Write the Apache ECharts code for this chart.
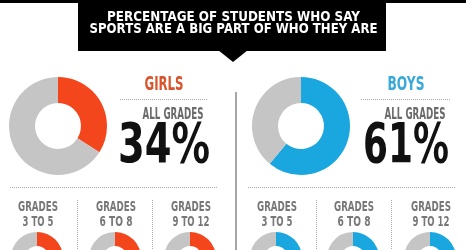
<!DOCTYPE html>
<html>
<head>
<meta charset="utf-8">
<script src="https://cdn.jsdelivr.net/npm/echarts@6/dist/echarts.min.js"></script>
<style>
  html, body { margin: 0; padding: 0; background: #fff; }
  #chart { width: 466px; height: 250px; }
</style>
</head>
<body>
<div id="chart"></div>
<script>
// 数据
var titleLines = ['PERCENTAGE OF STUDENTS WHO SAY', 'SPORTS ARE A BIG PART OF WHO THEY ARE'];
var groups = ['GIRLS', 'BOYS'];
var allGrades = [34, 61];
var gradeLabels = ['3 TO 5', '6 TO 8', '9 TO 12'];
var girlsByGrade = [38, 35, 31];
var boysByGrade = [64, 60, 58];

var colors = { GIRLS: '#f4461c', BOYS: '#1aa7e0' };
var textColors = { GIRLS: '#d9532c', BOYS: '#3aa9d8' };
var grey = '#c5c5c5';
var fam = '"DejaVu Sans", sans-serif';

var chart = echarts.init(document.getElementById('chart'));

// 用canvas量宽度，再横向压缩成窄体字
var ctx = document.createElement('canvas').getContext('2d');
function squeezed(str, x, y, size, width, fill) {
    var font = 'bold ' + size + 'px ' + fam;
    ctx.font = font;
    var w = ctx.measureText(str).width;
    return {
        type: 'text', x: x, y: y, scaleX: width / w,
        style: { text: str, fill: fill, font: font, align: 'center', verticalAlign: 'middle' }
    };
}

function donut(value, color, center, radius) {
    return {
        type: 'pie',
        silent: true,
        startAngle: 90,
        clockwise: true,
        center: center,
        radius: radius,
        label: { show: false },
        labelLine: { show: false },
        emphasis: { disabled: true },
        data: [
            { value: value, itemStyle: { color: color } },
            { value: 100 - value, itemStyle: { color: grey } }
        ]
    };
}

var series = [];
var graphic = [];

// 顶部黑条和标题框
graphic.push({ type: 'rect', shape: { x: 0, y: 0, width: 466, height: 3 }, style: { fill: '#000' } });
graphic.push({ type: 'rect', shape: { x: 78, y: 0, width: 308, height: 51 }, style: { fill: '#000' } });
graphic.push({ type: 'polygon', shape: { points: [[218, 50], [248, 50], [233, 62]] }, style: { fill: '#000' } });
graphic.push(squeezed(titleLines[0], 233.5, 17, 14, 253, '#fff'));
graphic.push(squeezed(titleLines[1], 233.5, 29, 14, 288, '#fff'));

// 中间竖线
graphic.push({ type: 'line', shape: { x1: 236, y1: 92, x2: 236, y2: 250 }, style: { stroke: '#8a8a8a', lineWidth: 1.5 } });

var bigCx = [58, 301];
var textCx = [164, 406];
var groupW = [39, 37];
var pctW = [92, 86];
var dotX = [[120, 208], [361, 451]];
var botDot = [[10, 218], [248, 455]];
var smallCx = [[37, 115, 190], [276, 353, 430]];
var sepX = [[77, 152], [316, 391]];
var lblW = [31, 33, 37];
var byGrade = [girlsByGrade, boysByGrade];

groups.forEach(function(g, gi) {
    series.push(donut(allGrades[gi], colors[g], [bigCx[gi], 126], [23, 49]));

    graphic.push(squeezed(g, textCx[gi], 85.5, 19, groupW[gi], textColors[g]));
    graphic.push({
        type: 'line', shape: { x1: dotX[gi][0], y1: 99.5, x2: dotX[gi][1], y2: 99.5 },
        style: { stroke: '#aaa', lineWidth: 1, lineDash: [1, 1] }
    });
    graphic.push(squeezed('ALL GRADES', textCx[gi] + 9, 115, 15, 61, '#6a6a6a'));
    graphic.push(squeezed(allGrades[gi] + '%', textCx[gi], 148, 55, pctW[gi], '#111'));
    graphic.push({
        type: 'line', shape: { x1: botDot[gi][0], y1: 187.5, x2: botDot[gi][1], y2: 187.5 },
        style: { stroke: '#aaa', lineWidth: 1, lineDash: [1, 1] }
    });

    gradeLabels.forEach(function(lbl, k) {
        var cx = smallCx[gi][k] + 1;
        graphic.push(squeezed('GRADES', cx, 207.5, 14, 40, '#777'));
        graphic.push(squeezed(lbl, cx, 222.5, 14, lblW[k], '#777'));
        series.push(donut(byGrade[gi][k], colors[g], [smallCx[gi][k], 258], [12, 26]));
    });
    sepX[gi].forEach(function(x) {
        graphic.push({
            type: 'line', shape: { x1: x + 0.5, y1: 200, x2: x + 0.5, y2: 250 },
            style: { stroke: '#aaa', lineWidth: 1, lineDash: [1, 1] }
        });
    });
});

chart.setOption({
    animation: false,
    backgroundColor: '#fff',
    series: series,
    graphic: graphic
});
</script>
</body>
</html>
